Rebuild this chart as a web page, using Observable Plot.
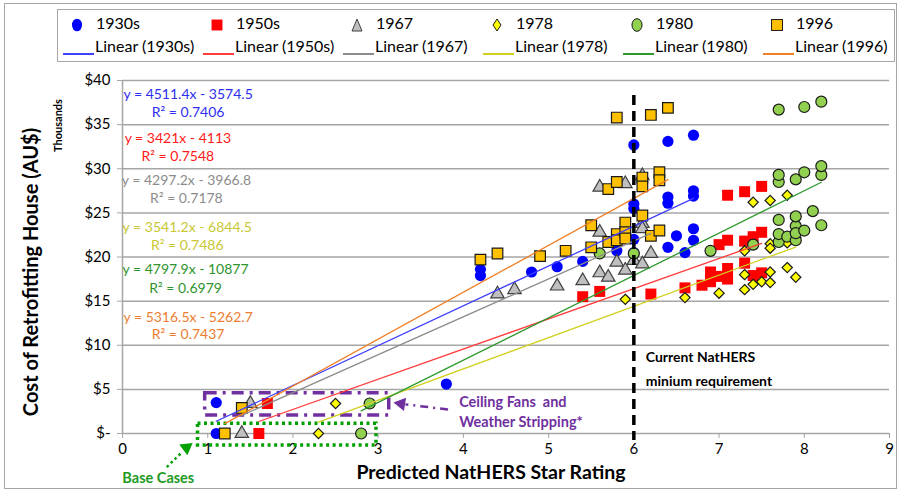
<!DOCTYPE html>
<html>
<head>
<meta charset="utf-8">
<script src="https://cdn.jsdelivr.net/npm/d3@7"></script>
<script src="https://cdn.jsdelivr.net/npm/@observablehq/plot@0.6"></script>
<style>
  body { margin: 0; background: #fff; font-family: Lato, "Open Sans", sans-serif; }
  #wrap { position: relative; width: 901px; height: 492px; overflow: hidden; background: #fff; }
  #legendArea { position: relative; width: 901px; height: 68px; }
  #legend { position: absolute; left: 57px; top: 9px; width: 838px; height: 53px; border: 1px solid #a6a6a6; box-sizing: border-box; }
  .li { position: absolute; font-size: 16px; line-height: 18px; white-space: nowrap; color: #000; }
  .sym { position: absolute; }
  #frame { position: absolute; left: 4px; top: 3px; width: 893px; height: 486px; border: 1px solid #a6a6a6; box-sizing: border-box; pointer-events: none; }
  #chart svg { display: block; }
</style>
</head>
<body>
<div id="wrap">
  <div id="legendArea"><div id="legend"></div></div>
  <div id="chart"></div>
  <div id="frame"></div>
</div>
<script>
// ---------------- data ----------------
const seriesNames = ["1930s", "1950s", "1967", "1978", "1980", "1996"];

const x1930s = [1.1, 1.1, 3.8, 4.2, 4.2, 4.8, 5.1, 5.4, 5.8, 6.0, 6.0, 6.0, 6.0, 6.0, 6.4, 6.4, 6.4, 6.4, 6.5, 6.6, 6.7, 6.7, 6.7, 6.7, 6.7];
const y1930s = [0, 3.5, 5.6, 18.6, 17.9, 18.3, 18.9, 19.5, 20.7, 32.7, 26.0, 25.5, 22.0, 20.5, 33.1, 26.8, 26.1, 21.1, 22.4, 20.5, 33.8, 27.5, 26.9, 23.2, 21.9];

const x1950s = [1.6, 1.7, 5.4, 5.6, 6.2, 6.6, 6.8, 6.9, 6.9, 7.0, 7.1, 7.1, 7.3, 7.4, 7.5, 7.0, 7.1, 7.3, 7.4, 7.5, 7.1, 7.3, 7.5];
const y1950s = [0, 3.4, 15.5, 16.1, 15.8, 16.5, 16.8, 17.2, 18.3, 17.8, 18.7, 17.5, 19.3, 17.9, 18.2, 21.4, 21.9, 21.8, 22.3, 22.8, 27.0, 27.4, 28.0];

const x1967 = [1.4, 1.5, 4.4, 4.6, 5.1, 5.4, 5.6, 5.7, 5.6, 5.8, 5.9, 6.0, 6.1, 6.2, 6.1, 6.1, 5.6, 5.9, 6.1];
const y1967 = [0, 3.4, 15.8, 16.3, 16.7, 17.3, 18.2, 17.7, 22.8, 19.4, 18.5, 19.6, 19.2, 20.4, 23.8, 23.2, 27.9, 28.3, 29.2];

const x1978 = [2.3, 2.5, 5.9, 6.6, 7.0, 7.3, 7.4, 7.3, 7.5, 7.6, 7.6, 7.8, 7.9, 7.3, 7.6, 7.6, 7.8, 7.9, 7.4, 7.6, 7.8];
const y1978 = [0, 3.4, 15.2, 15.4, 15.9, 16.3, 16.9, 18.0, 17.2, 17.1, 18.3, 18.8, 17.7, 20.7, 21.5, 21.0, 21.6, 22.2, 26.2, 26.4, 27.0];

const x1980 = [2.8, 2.9, 5.6, 6.0, 6.9, 7.4, 7.7, 7.7, 7.8, 7.9, 7.9, 7.9, 8.0, 8.2, 7.7, 7.9, 8.1, 7.7, 7.7, 7.9, 8.0, 8.2, 8.2, 7.7, 8.0, 8.2];
const y1980 = [0, 3.4, 20.4, 20.4, 20.7, 21.4, 21.7, 22.6, 22.3, 21.9, 23.5, 22.7, 23.0, 23.6, 24.2, 24.6, 25.2, 28.5, 29.3, 28.8, 29.6, 29.3, 30.3, 36.7, 37.0, 37.6];

const x1996 = [1.2, 1.4, 4.2, 4.4, 4.9, 5.2, 5.5, 5.5, 5.7, 5.8, 5.8, 5.9, 5.9, 5.9, 6.1, 6.2, 6.3, 5.7, 5.8, 6.1, 6.1, 6.3, 6.3, 5.8, 6.2, 6.4];
const y1996 = [0, 2.9, 19.7, 20.4, 20.1, 20.7, 23.6, 21.1, 21.7, 22.6, 21.9, 23.9, 22.8, 22.1, 24.7, 22.4, 23.0, 27.7, 28.5, 29.0, 28.0, 29.6, 28.7, 35.8, 36.1, 36.9];

// trendline equations shown on the chart (y in AU$, x in stars)
const slopes = [4511.4, 3421, 4297.2, 3541.2, 4797.9, 5316.5];
const intercepts = [-3574.5, -4113, -3966.8, -6844.5, -10877, -5262.7];
const rSquared = ["0.7406", "0.7548", "0.7178", "0.7486", "0.6979", "0.7437"];
const equationLabels = ["y = 4511.4x - 3574.5", "y = 3421x - 4113", "y = 4297.2x - 3966.8", "y = 3541.2x - 6844.5", "y = 4797.9x - 10877", "y = 5316.5x - 5262.7"];

const xTicks = [0, 1, 2, 3, 4, 5, 6, 7, 8, 9];
const yTicks = [0, 5, 10, 15, 20, 25, 30, 35, 40];
const yTickLabels = ["$-", "$5", "$10", "$15", "$20", "$25", "$30", "$35", "$40"];

const minRequirement = 6;

// ---------------- styling / layout ----------------
const seriesX = [x1930s, x1950s, x1967, x1978, x1980, x1996];
const seriesY = [y1930s, y1950s, y1967, y1978, y1980, y1996];
const styles = [
  {symbol: "circle",   fill: "#0000FF", stroke: "none",    sw: 0,   r: 5.6, line: "#3F3FFF", text: "#2E2EF0"},
  {symbol: "square",   fill: "#FF0000", stroke: "none",    sw: 0,   r: 6.2, line: "#FF3B3B", text: "#FF1A1A"},
  {symbol: "triangle", fill: "#BFBFBF", stroke: "#404040", sw: 1.2, r: 5.0, line: "#8C8C8C", text: "#8C8C8C"},
  {symbol: "diamond2", fill: "#FFFF00", stroke: "#1A1A1A", sw: 1.2, r: 4.6, line: "#D0D020", text: "#C8C832"},
  {symbol: "circle",   fill: "#92D050", stroke: "#1A1A1A", sw: 1.2, r: 5.5, line: "#2E9A2E", text: "#2E942E"},
  {symbol: "square",   fill: "#FFC000", stroke: "#1A1A1A", sw: 1.2, r: 6.0, line: "#F07F26", text: "#EE7D31"}
];
// equation block anchors (x = centre, y1 = first line, y2 = second line), data units
const eqX = [0.77, 0.65, 0.75, 0.76, 0.74, 0.77];
const eqY1 = [38.45, 33.4, 28.65, 23.3, 18.55, 13.1];
const eqY2 = [36.35, 31.35, 26.6, 21.25, 16.45, 11.2];

// ---------------- legend ----------------
const legend = document.getElementById("legend");
function symSvg(st, size) {
  const s = size, c = s / 2;
  let shape = "";
  const f = st.fill, k = st.stroke === "none" ? "none" : st.stroke;
  if (st.symbol === "circle") shape = `<ellipse cx="${c}" cy="${c}" rx="${c * 0.72}" ry="${c * 0.9}" fill="${f}" stroke="${k}" stroke-width="1"/>`;
  else if (st.symbol === "square") shape = `<rect x="${c - c * 0.78}" y="${c - c * 0.78}" width="${c * 1.56}" height="${c * 1.56}" fill="${f}" stroke="${k}" stroke-width="1"/>`;
  else if (st.symbol === "triangle") shape = `<polygon points="${c},${1} ${s - 2},${s - 1} ${2},${s - 1}" fill="${f}" stroke="${k}" stroke-width="1"/>`;
  else shape = `<polygon points="${c},${1} ${s - 3},${c} ${c},${s - 1} ${3},${c}" fill="${f}" stroke="${k}" stroke-width="1"/>`;
  return `<svg width="${s}" height="${s}">${shape}</svg>`;
}
seriesNames.forEach((name, i) => {
  const ox = 140 * i;
  const sym = document.createElement("div");
  sym.className = "sym";
  sym.style.left = (12 + ox) + "px";
  sym.style.top = "6px";
  sym.innerHTML = symSvg(styles[i], 14);
  legend.appendChild(sym);
  const t = document.createElement("div");
  t.className = "li";
  t.style.left = (38 + ox) + "px";
  t.style.top = "4px";
  t.textContent = name;
  legend.appendChild(t);
  const ln = document.createElement("div");
  ln.className = "sym";
  ln.style.left = (5 + ox) + "px";
  ln.style.top = "32px";
  ln.innerHTML = `<svg width="32" height="8"><line x1="0" y1="4" x2="31" y2="4" stroke="${styles[i].line}" stroke-width="2"/></svg>`;
  legend.appendChild(ln);
  const t2 = document.createElement("div");
  t2.className = "li";
  t2.style.left = (37 + ox) + "px";
  t2.style.top = "27px";
  t2.textContent = "Linear (" + name + ")";
  legend.appendChild(t2);
});

// ---------------- marks ----------------
const marks = [];
marks.push(Plot.ruleY(yTicks, {stroke: "#a6a6a6", strokeWidth: 1.5}));
marks.push(Plot.ruleX([0], {stroke: "#a6a6a6", strokeWidth: 1.5}));
marks.push(Plot.axisY({ticks: yTicks, tickFormat: d => yTickLabels[yTicks.indexOf(d)], tickSize: 5, tickPadding: 7, label: null, stroke: "#a6a6a6", fill: "#000", fontSize: 15}));
marks.push(Plot.axisX({ticks: xTicks, tickFormat: d => String(d), tickSize: 5, tickPadding: 5, label: null, stroke: "#a6a6a6", fill: "#000", fontSize: 15}));

// annotation boxes
const baseBox = [{x1: 0.886, x2: 2.98, y1: -1.36, y2: 1.1}];
const fanBox = [{x1: 0.97, x2: 3.13, y1: 2.04, y2: 4.57}];
marks.push(Plot.rect(baseBox, {x1: "x1", x2: "x2", y1: "y1", y2: "y2", fill: "none", stroke: "#00A000", strokeWidth: 3.5, strokeDasharray: "3,3.5"}));
marks.push(Plot.rect(fanBox, {x1: "x1", x2: "x2", y1: "y1", y2: "y2", fill: "none", stroke: "#7030A0", strokeWidth: 3.5, strokeDasharray: "12,6,3,6"}));

// series
seriesNames.forEach((name, i) => {
  const st = styles[i];
  const pts = seriesX[i].map((x, j) => ({x, y: seriesY[i][j]}));
  marks.push(Plot.dot(pts, {x: "x", y: "y", symbol: st.symbol, r: st.r, fill: st.fill, stroke: st.stroke, strokeWidth: st.sw}));
});
// trendlines drawn from the equations over each series' x extent
seriesNames.forEach((name, i) => {
  const [lo, hi] = d3.extent(seriesX[i]);
  const ends = [lo, hi].map(x => ({x, y: (slopes[i] * x + intercepts[i]) / 1000}));
  marks.push(Plot.line(ends, {x: "x", y: "y", stroke: styles[i].line, strokeWidth: 1.3}));
});

// equation labels
seriesNames.forEach((name, i) => {
  marks.push(Plot.text([equationLabels[i]], {x: () => eqX[i], y: () => eqY1[i], text: d => d, fill: styles[i].text, fontSize: 14, textAnchor: "middle"}));
  marks.push(Plot.text(["R² = " + rSquared[i]], {x: () => eqX[i], y: () => eqY2[i], text: d => d, fill: styles[i].text, fontSize: 14, textAnchor: "middle"}));
});

// minimum requirement line
marks.push(Plot.ruleX([minRequirement], {y1: 38.3, y2: -0.8, stroke: "#000", strokeWidth: 3.5, strokeDasharray: "10,6"}));
marks.push(Plot.text(["Current NatHERS", "minium requirement"], {x: () => 6.14, y: (d, i) => [8.6, 5.9][i], text: d => d, textAnchor: "start", fontWeight: "bold", fontSize: 14, fill: "#000"}));

// ceiling fans annotation
marks.push(Plot.link([{x1: 3.82, y1: 2.72, x2: 3.32, y2: 3.3}], {x1: "x1", y1: "y1", x2: "x2", y2: "y2", stroke: "#7030A0", strokeWidth: 2.5, strokeDasharray: "8,5,2,5"}));
marks.push(Plot.dot([{x: 3.27, y: 3.37}], {x: "x", y: "y", symbol: "triangle", r: 5, rotate: -81, fill: "#7030A0", stroke: "none"}));
marks.push(Plot.text(["Ceiling Fans  and", "Weather Stripping*"], {x: () => 3.95, y: (d, i) => [3.5, 1.25][i], text: d => d, textAnchor: "start", fontWeight: "bold", fontSize: 14.5, fill: "#7030A0"}));

// base cases annotation
marks.push(Plot.link([{x1: 0.52, y1: -3.8, x2: 0.70, y2: -2.1}], {x1: "x1", y1: "y1", x2: "x2", y2: "y2", stroke: "#00A000", strokeWidth: 2.5, strokeDasharray: "2.5,3"}));
marks.push(Plot.dot([{x: 0.75, y: -1.6}], {x: "x", y: "y", symbol: "triangle", r: 5, rotate: 53, fill: "#00A000", stroke: "none"}));
marks.push(Plot.text(["Base Cases"], {x: () => 0.42, y: () => -5.05, text: d => d, textAnchor: "middle", fontWeight: "bold", fontSize: 14.5, fill: "#1E9A1E"}));

// axis titles
marks.push(Plot.text(["Cost of Retrofitting House (AU$)"], {x: () => 0, y: () => 18.3, text: d => d, rotate: -90, dx: -91, fontWeight: "bold", fontSize: 20, fill: "#000"}));
marks.push(Plot.text(["Thousands"], {x: () => 0, y: () => 34.9, text: d => d, rotate: -90, dx: -64, fontWeight: "bold", fontSize: 11, fill: "#000"}));
marks.push(Plot.text(["Predicted NatHERS Star Rating"], {frameAnchor: "bottom", text: d => d, dx: -15, dy: 45, fontWeight: "bold", fontSize: 19.5, fill: "#000"}));

const chart = Plot.plot({
  width: 901,
  height: 424,
  marginTop: 12,
  marginBottom: 59,
  marginLeft: 122,
  marginRight: 12,
  style: {fontFamily: "Lato, 'Open Sans', sans-serif", fontSize: "15px", background: "#fff", color: "#000", overflow: "visible"},
  x: {domain: [0, 9], axis: null},
  y: {domain: [0, 40], axis: null},
  marks
});
document.getElementById("chart").appendChild(chart);
</script>
</body>
</html>
